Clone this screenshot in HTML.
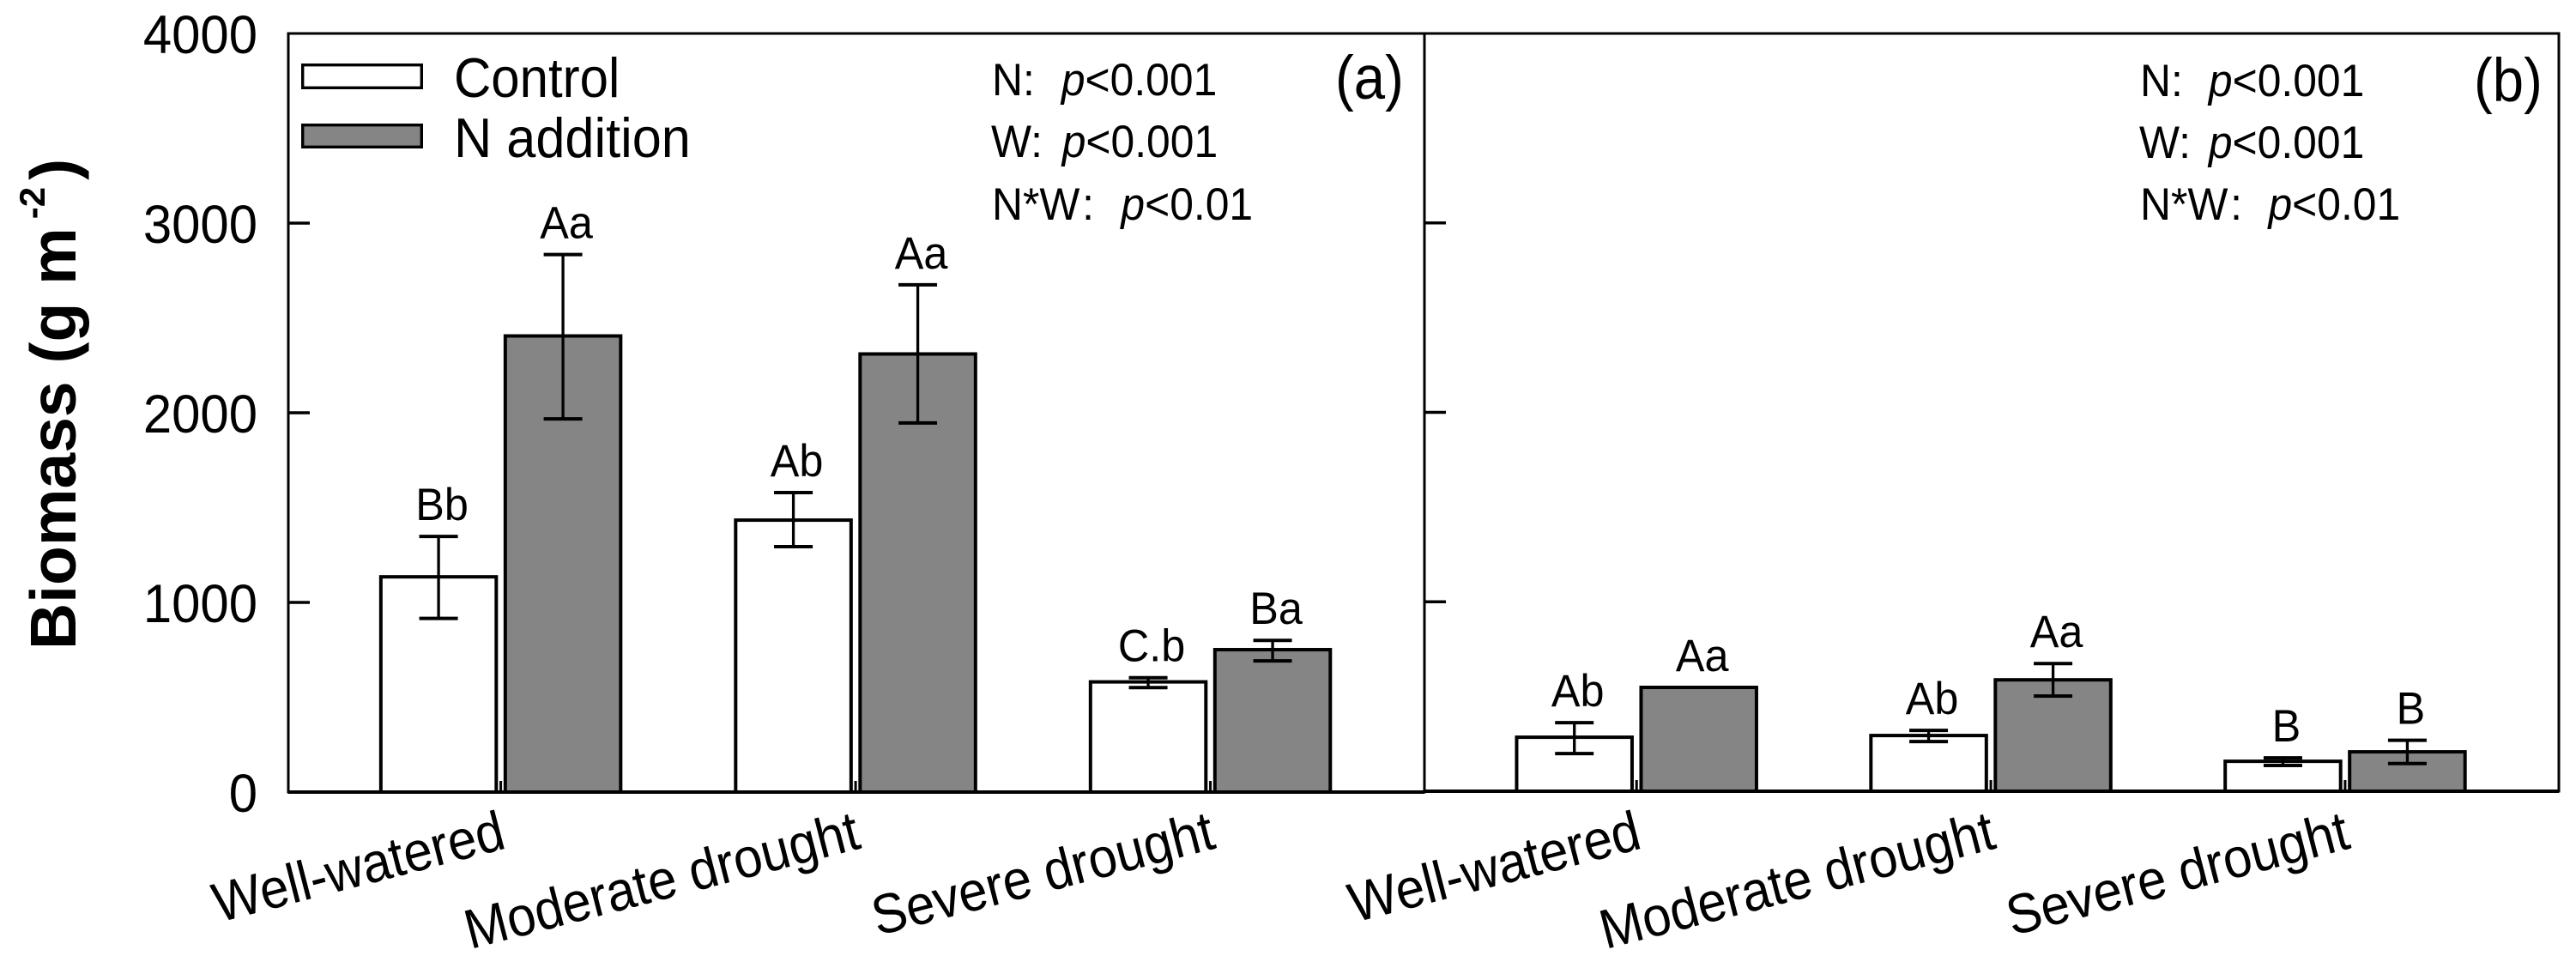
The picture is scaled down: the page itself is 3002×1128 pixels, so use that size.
<!DOCTYPE html>
<html lang="en">
<head>
<meta charset="utf-8">
<title>Biomass under nitrogen addition and drought</title>
<style>
html,body{margin:0;padding:0;background:#fff;}
svg{display:block;font-family:"Liberation Sans",Arial,sans-serif;}
</style>
</head>
<body>
<svg id="chart" xmlns="http://www.w3.org/2000/svg" width="3002" height="1128" viewBox="0 0 3002 1128">
  <rect x="0" y="0" width="3002" height="1128" fill="#fff"/>
  <g id="panels"></g>
  <text transform="translate(88,757) rotate(-90)" font-size="75" font-weight="bold">Biomass (g m<tspan dy="-36" dx="10" font-size="42">-2</tspan><tspan dy="36" dx="8">)</tspan></text>

  <g>
    <rect x="352.7" y="75.7" width="138.6" height="26.6" fill="#fff" stroke="#000" stroke-width="3.4"/>
    <text transform="translate(529,113) scale(.93,1)" font-size="64.5">Control</text>
    <rect x="352.7" y="145.7" width="138.6" height="25.6" fill="#858585" stroke="#000" stroke-width="3.4"/>
    <text transform="translate(529,183) scale(.95,1)" font-size="64.5">N addition</text>
  </g>

  <g font-size="53">
    <text transform="translate(1156,111) scale(.94,1)">N:<tspan x="86" font-style="italic">p</tspan>&lt;0.001</text>
    <text transform="translate(1155,183) scale(.94,1)">W:<tspan x="88" font-style="italic">p</tspan>&lt;0.001</text>
    <text transform="translate(1156,256) scale(.94,1)">N*W<tspan dx="3">:</tspan><tspan x="160" font-style="italic">p</tspan>&lt;0.01</text>
  </g>
  <text transform="translate(1556,115) scale(.92,1)" font-size="71">(a)</text>

  <g font-size="53">
    <text transform="translate(2494,112) scale(.94,1)">N:<tspan x="85" font-style="italic">p</tspan>&lt;0.001</text>
    <text transform="translate(2493,184) scale(.94,1)">W:<tspan x="86" font-style="italic">p</tspan>&lt;0.001</text>
    <text transform="translate(2494,256) scale(.94,1)">N*W<tspan dx="3">:</tspan><tspan x="159" font-style="italic">p</tspan>&lt;0.01</text>
  </g>
  <text transform="translate(2883,118) scale(.92,1)" font-size="71">(b)</text>
</svg>

<script>
const categories = ['Well-watered', 'Moderate drought', 'Severe drought'];
const yTickValues = [0, 1000, 2000, 3000, 4000];
const yTickLabels = ['0', '1000', '2000', '3000', '4000'];

const controlA = [1135, 1434, 581];
const controlAHigh = [1348, 1579, 603];
const controlALow = [916, 1294, 551];
const controlALetters = ['Bb', 'Ab', 'C.b'];

const nitrogenA = [2405, 2310, 751];
const nitrogenAHigh = [2834, 2675, 800];
const nitrogenALow = [1968, 1946, 692];
const nitrogenALetters = ['Aa', 'Aa', 'Ba'];

const controlB = [285, 294, 158];
const controlBHigh = [362, 321, 176];
const controlBLow = [199, 262, 136];
const controlBLetters = ['Ab', 'Ab', 'B'];

const nitrogenB = [548, 588, 208];
const nitrogenBHigh = [548, 674, 269];
const nitrogenBLow = [548, 502, 146];
const nitrogenBLetters = ['Aa', 'Aa', 'B'];

const NS = 'http://www.w3.org/2000/svg';
const root = document.getElementById('panels');

function make(tag, attrs, parent, text) {
  const node = document.createElementNS(NS, tag);
  for (const k in attrs) node.setAttribute(k, attrs[k]);
  if (text !== undefined) node.textContent = text;
  parent.appendChild(node);
  return node;
}

function drawPanel(cfg) {
  const g = make('g', {}, root);
  
  

  const yScale = v => cfg.bottom - v * (cfg.bottom - cfg.top) / 4000;
  const xScale = i => cfg.left + (cfg.right - cfg.left) * (0.187 + i * 0.3123);
  const barW = 134.5;
  const offset = 72.5;

  const drawSeries = (series, sx, fill, label) => {
    categories.forEach((c, i) => {
      const cx = xScale(i) + sx * offset;
      const top = yScale(series.values[i]);
      const bar = make('rect', {x: cx - barW / 2, y: top, width: barW, height: cfg.bottom - top, fill: fill, stroke: '#000', 'stroke-width': 4}, g);
      
      

      const hi = yScale(series.high[i]);
      const lo = yScale(series.low[i]);
      if (series.high[i] !== series.low[i]) {
        const stem = make('line', {x1: cx, x2: cx, y1: hi, y2: lo, stroke: '#000', 'stroke-width': 3.3}, g);
        
        
        const capTop = make('line', {x1: cx - 22.5, x2: cx + 22.5, y1: hi, y2: hi, stroke: '#000', 'stroke-width': 4}, g);
        
        
        const capBottom = make('line', {x1: cx - 22.5, x2: cx + 22.5, y1: lo, y2: lo, stroke: '#000', 'stroke-width': 4}, g);
        
        
      }

      const letter = make('text', {transform: 'translate(' + (cx + 4) + ',' + (Math.min(hi, top) - 19) + ') scale(.95,1)', 'font-size': 53, 'text-anchor': 'middle'}, g, series.letters[i]);
      
      
    });
  };

  drawSeries(cfg.control, -1, '#fff', 'control');
  drawSeries(cfg.nitrogen, 1, '#858585', 'n-addition');

  // x ticks and rotated category labels
  categories.forEach((c, i) => {
    const tx = xScale(i);
    const tick = make('line', {x1: tx, x2: tx, y1: cfg.bottom, y2: cfg.bottom - 13, stroke: '#000', 'stroke-width': 3}, g);
    
    
    const label = make('text', {transform: 'translate(' + (tx + 8) + ',988) rotate(-14.5) scale(.92,1)', 'font-size': 65, 'text-anchor': 'end'}, g, c);
    
    
  });

  // y ticks
  yTickValues.forEach((v, i) => {
    const y = yScale(v);
    if (v > 0 && v < 4000) {
      const tick = make('line', {x1: cfg.left, x2: cfg.left + 25, y1: y, y2: y, stroke: '#000', 'stroke-width': 3.4}, g);
      
      
    }
    if (cfg.showLabels) {
      const label = make('text', {transform: 'translate(' + (cfg.left - 36) + ',' + (y + 23) + ') scale(.95,1)', 'font-size': 63, 'text-anchor': 'end'}, g, yTickLabels[i]);
      
      
    }
  });

  // frame
  const frame = make('rect', {x: cfg.left, y: cfg.top, width: cfg.right - cfg.left, height: cfg.bottom - cfg.top, fill: 'none', stroke: '#000', 'stroke-width': 3}, g);
  
  
  const baseline = make('line', {x1: cfg.left, x2: cfg.right, y1: cfg.bottom, y2: cfg.bottom, stroke: '#000', 'stroke-width': 4}, g);
  
  
}

drawPanel({
  id: 'a', left: 336, right: 1660, top: 39, bottom: 923, showLabels: true,
  control: {values: controlA, high: controlAHigh, low: controlALow, letters: controlALetters},
  nitrogen: {values: nitrogenA, high: nitrogenAHigh, low: nitrogenALow, letters: nitrogenALetters}
});
drawPanel({
  id: 'b', left: 1660, right: 2982, top: 39, bottom: 922, showLabels: false,
  control: {values: controlB, high: controlBHigh, low: controlBLow, letters: controlBLetters},
  nitrogen: {values: nitrogenB, high: nitrogenBHigh, low: nitrogenBLow, letters: nitrogenBLetters}
});
</script>
</body>
</html>
